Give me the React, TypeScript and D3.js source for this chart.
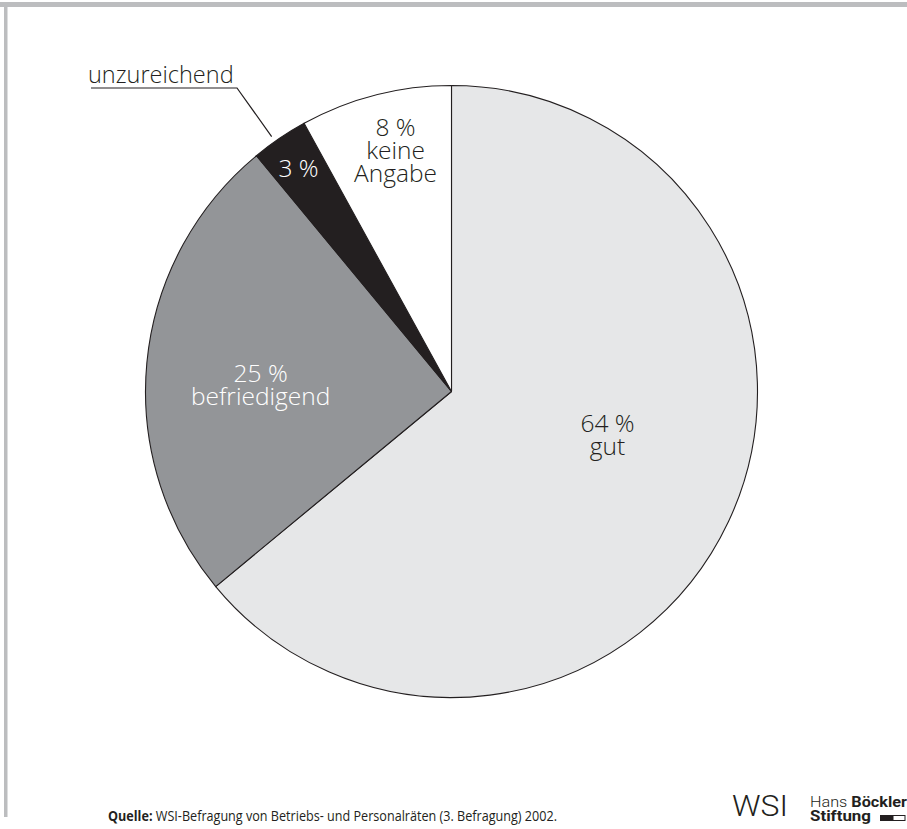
import React from "react";
import * as d3 from "d3";

const categories = ["gut", "befriedigend", "unzureichend", "keine Angabe"];
const values = [64, 25, 3, 8];
const labelLines = [["64 %", "gut"], ["25 %", "befriedigend"], ["3 %"], ["8 %", "keine", "Angabe"]];
const sliceColors = ["#e6e7e8", "#939598", "#231f20", "#ffffff"];
const textColors = ["#231f20", "#ffffff", "#ffffff", "#231f20"];
// label anchor in polar coords relative to pie centre (radius px, angle deg clockwise from top)
const labelPolar = [
  { r: 162, a: 105.7 },
  { r: 191, a: 272.1 },
  { r: 270, a: 325.5 },
  { r: 247, a: 346.9 },
];
const calloutText = "unzureichend";
const sourceBold = "Quelle:";
const sourceText = " WSI-Befragung von Betriebs- und Personalräten (3. Befragung) 2002.";

const W = 907;
const H = 829;
const cx = 451.5;
const cy = 391.5;
const R = 306;
const FONT = "'Open Sans', 'DejaVu Sans', sans-serif";
const LOGO_FONT = "Roboto, 'Liberation Sans', sans-serif";

export default function App() {
  const pie = d3.pie<number>().sort(null).value((d) => d).startAngle(0).endAngle(2 * Math.PI);
  const arcs = pie(values);
  const arc = d3.arc<d3.PieArcDatum<number>>().innerRadius(0).outerRadius(R);

  const polar = (r: number, deg: number) => {
    const t = (deg * Math.PI) / 180;
    return [cx + r * Math.sin(t), cy - r * Math.cos(t)];
  };

  // callout leader: ends just outside the 'unzureichend' slice at its mid-angle
  const ua = arcs[2];
  const mid = ((ua.startAngle + ua.endAngle) / 2) * (180 / Math.PI);
  const [lx, ly] = polar(R + 6, mid - 1);
  const ulY = 88;
  const ulX0 = 91;
  const ulX1 = 237;

  const lh = 23;

  return (
    <svg
      width={W}
      height={H}
      style={{ position: "absolute", left: 0, top: 0, background: "#fff" }}
      fontFamily={FONT}
    >
      {/* frame */}
      <rect x={0} y={2} width={W} height={5} fill="#bcbdbf" />
      <rect x={4} y={2} width={3.5} height={815} fill="#bcbdbf" />

      <g transform={`translate(${cx},${cy})`}>
        {arcs.map((a, i) => (
          <path
            key={categories[i]}
            d={arc(a) || ""}
            fill={sliceColors[i]}
            stroke="#231f20"
            strokeWidth={1.1}
            strokeLinejoin="round"
          />
        ))}
      </g>

      {labelLines.map((lines, i) => {
        const [x, y] = polar(labelPolar[i].r, labelPolar[i].a);
        const first = y + 8.5 - ((lines.length - 1) * lh) / 2;
        return (
          <text key={i} textAnchor="middle" fontSize={24.5} fontWeight={350} fill={textColors[i]}>
            {lines.map((l, j) => (
              <tspan key={j} x={x} y={first + j * lh}>
                {l}
              </tspan>
            ))}
          </text>
        );
      })}

      {/* callout */}
      <text x={88} y={83} fontSize={23.5} fontWeight={350} fill="#231f20">
        {calloutText}
      </text>
      <polyline
        points={`${ulX0},${ulY} ${ulX1},${ulY} ${lx},${ly}`}
        fill="none"
        stroke="#231f20"
        strokeWidth={1.2}
      />

      {/* source */}
      <text x={108} y={821} fontSize={14.5} fill="#231f20" textLength={449} lengthAdjust="spacingAndGlyphs">
        <tspan fontWeight="bold">{sourceBold}</tspan>
        <tspan>{sourceText}</tspan>
      </text>

      {/* logo */}
      <text
        x={732}
        y={816}
        fontSize={29}
        fontFamily={LOGO_FONT}
        fontWeight={300}
        fill="#231f20"
        textLength={56}
        lengthAdjust="spacingAndGlyphs"
      >
        WSI
      </text>
      <text x={810} y={807} fontSize={15.5} fontFamily={LOGO_FONT} fill="#231f20" textLength={97} lengthAdjust="spacingAndGlyphs">
        <tspan fontWeight={300}>Hans </tspan>
        <tspan fontWeight="bold">Böckler</tspan>
      </text>
      <text x={810} y={821} fontSize={15.5} fontFamily={LOGO_FONT} fontWeight="bold" fill="#231f20" textLength={61} lengthAdjust="spacingAndGlyphs">
        Stiftung
      </text>
      <rect x={880} y={815} width={13} height={6} fill="#231f20" />
      <rect x={893} y={815.5} width={12} height={5} fill="#fff" stroke="#231f20" strokeWidth={1} />
    </svg>
  );
}
